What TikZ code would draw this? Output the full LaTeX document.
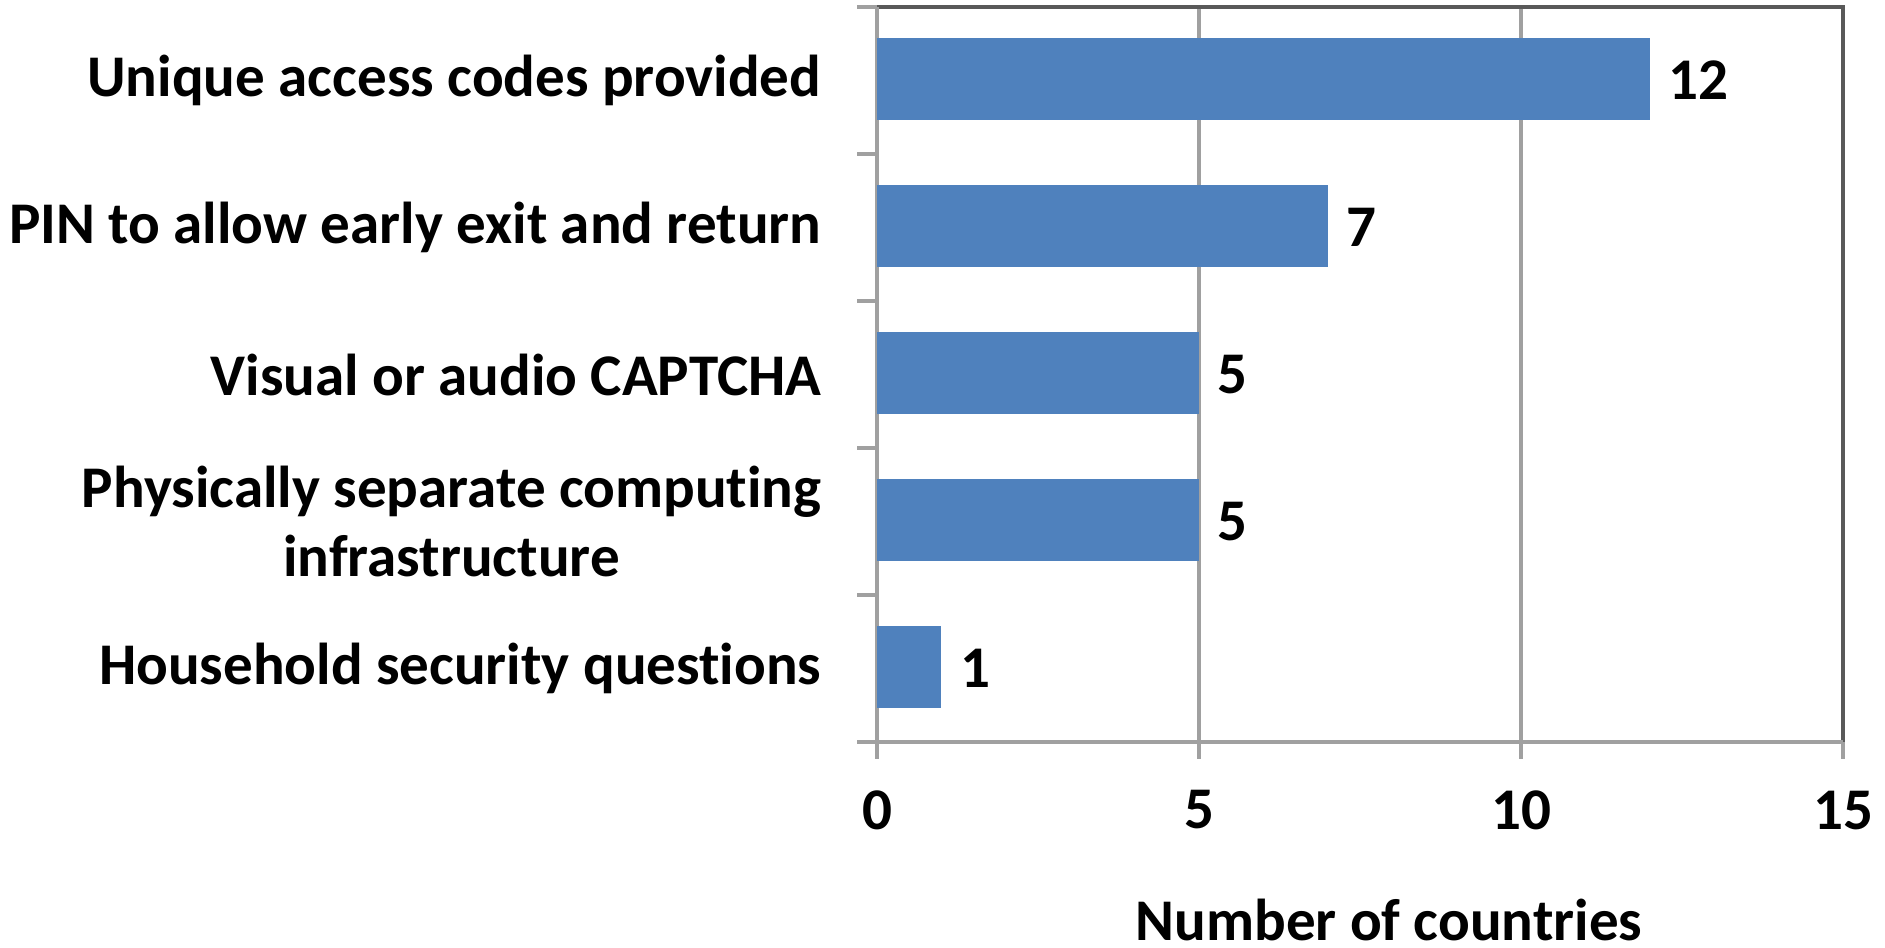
\documentclass[tikz,border=0pt]{standalone}
\usepackage{fontspec}
\setmainfont{Carlito}[Ligatures=CommonOff]
\usetikzlibrary{positioning}
\definecolor{barblue}{HTML}{4F81BD}
\definecolor{gridgray}{HTML}{A0A0A0}
\definecolor{framegray}{HTML}{595959}

\begin{document}
\begin{tikzpicture}[x=0.01cm, y=-0.01cm]
\tikzstyle{lbl} = [font=\bfseries\fontsize{16.8}{19.5}\selectfont, inner sep=0pt]
\tikzstyle{gridline} = [gridgray, line width=1.1pt]
\tikzstyle{frameline} = [framegray, line width=1.2pt]

\useasboundingbox (0,0) rectangle (1885,947);

% grid and frame
\foreach \t in {5,10}
  \draw[gridline] ({877+64.4*\t},7) -- ({877+64.4*\t},742);
\draw[frameline] (877,7) -- (1843,7) -- (1843,742);
\draw[gridline] (877,7) -- (877,742) -- (1843,742);

% ticks
\foreach \k in {0,...,5}
  \draw[gridline] (857,{7+147*\k}) -- (877,{7+147*\k});
\foreach \t in {0,5,10,15} {
  \draw[gridline] ({877+64.4*\t},742) -- ({877+64.4*\t},759);
  \node[lbl] (tick\t) at ({877+64.4*\t},810) {\t};
}

% bars with values
\foreach \v [count=\i] in {12,7,5,5,1} {
  \fill[barblue] (877,{7+147*(\i-1)+31}) rectangle ({877+64.4*\v},{7+147*(\i-1)+113});
  \coordinate (bar\i) at ({877+64.4*\v},{7+147*(\i-0.5)});
  \node[lbl, right=0.18cm of bar\i] (val\i) {\v};
}

% category labels
\foreach \txt [count=\i] in {Unique access codes provided,
    PIN to allow early exit and return,
    Visual or audio CAPTCHA,
    {Physically separate computing\\infrastructure},
    Household security questions}
  \node[lbl, anchor=east, align=center] (cat\i) at (822,{7+147*(\i-0.5)}) {\txt};

\node[lbl] (title) at (1389,920) {Number of countries};
\end{tikzpicture}
\end{document}
